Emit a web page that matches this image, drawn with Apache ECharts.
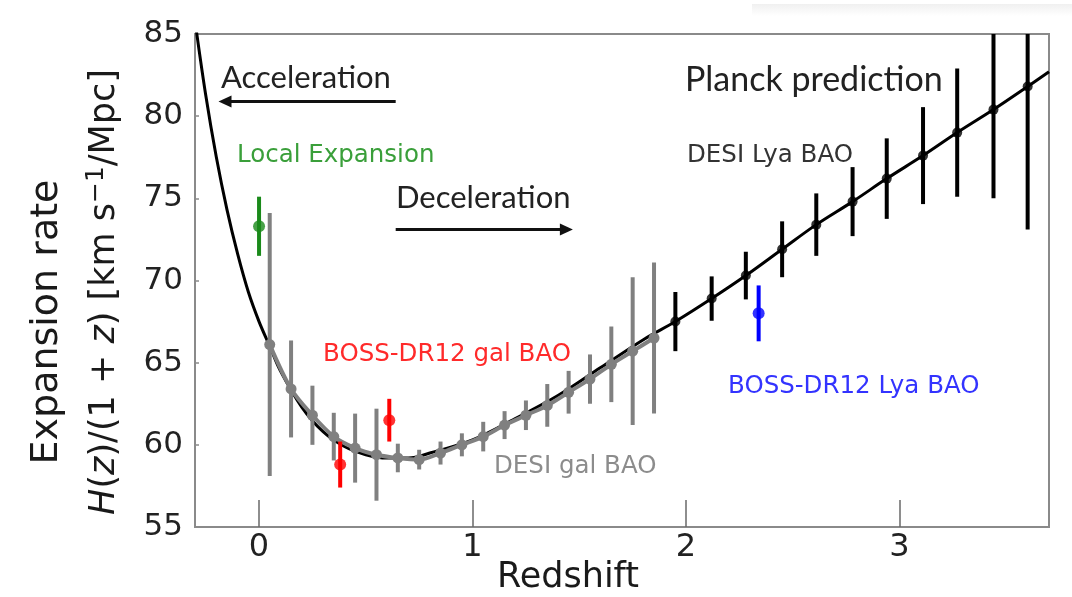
<!DOCTYPE html>
<html>
<head>
<meta charset="utf-8">
<script src="https://cdn.jsdelivr.net/npm/echarts@6/dist/echarts.min.js"></script>
<style>
html,body{margin:0;padding:0;background:#fff;}
#chart{width:1072px;height:597px;}
</style>
</head>
<body>
<div id="chart"></div>
<script>
// ---- Data ----
// Planck prediction curve H(z)/(1+z)
const planckZ = [-0.3, -0.25, -0.2, -0.15, -0.1, -0.05, 0, 0.05, 0.1, 0.2, 0.3, 0.4, 0.5, 0.6, 0.7, 0.8, 1.0, 1.2, 1.4, 1.6, 1.8, 1.95, 2.12, 2.28, 2.45, 2.61, 2.78, 2.94, 3.11, 3.27, 3.44, 3.6, 3.7];
const planckH = [85.8, 81.3, 77.5, 74.3, 71.6, 69.3, 67.5, 66.0, 64.5, 62.3, 60.8, 59.9, 59.4, 59.2, 59.2, 59.5, 60.3, 61.6, 63.0, 64.7, 66.4, 67.5, 68.9, 70.3, 71.9, 73.4, 74.8, 76.2, 77.6, 79.0, 80.4, 81.8, 82.7];

// DESI galaxy BAO forecast (grey)
const desiGalZ   = [0.05, 0.15, 0.25, 0.35, 0.45, 0.55, 0.65, 0.75, 0.85, 0.95, 1.05, 1.15, 1.25, 1.35, 1.45, 1.55, 1.65, 1.75, 1.85];
const desiGalH   = [66.1, 63.4, 61.8, 60.5, 59.8, 59.4, 59.2, 59.1, 59.5, 60.0, 60.5, 61.2, 61.8, 62.4, 63.2, 64.0, 64.9, 65.7, 66.5];
const desiGalErr = [8.0, 2.95, 1.8, 1.45, 2.1, 2.8, 0.87, 0.6, 0.7, 0.7, 0.9, 0.85, 0.9, 1.3, 1.3, 1.5, 2.3, 4.5, 4.6];

// DESI Lyman-alpha BAO forecast (black)
const desiLyaZ   = [1.95, 2.12, 2.28, 2.45, 2.61, 2.78, 2.94, 3.11, 3.27, 3.44, 3.60];
const desiLyaH   = [67.5, 68.9, 70.3, 71.9, 73.4, 74.8, 76.2, 77.6, 79.0, 80.4, 81.8];
const desiLyaErr = [1.8, 1.35, 1.45, 1.7, 1.9, 2.1, 2.45, 2.95, 3.9, 5.4, 8.7];

// BOSS-DR12 galaxy BAO (red)
const bossGalZ   = [0.38, 0.61];
const bossGalH   = [58.8, 61.5];
const bossGalErr = [1.4, 1.3];

// BOSS-DR12 Lyman-alpha BAO (blue)
const bossLyaZ   = [2.34];
const bossLyaH   = [68.0];
const bossLyaErr = [1.7];

// Local expansion (green)
const localZ   = [0.0];
const localH   = [73.3];
const localErr = [1.8];

// Axis ticks
const xTicks = [0, 1, 2, 3];

// Arrow annotations (data coordinates): [zStart, hStart, zEnd, hEnd]
const accelArrow = [0.64, 80.9, -0.19, 80.9];
const decelArrow = [0.64, 73.1, 1.47, 73.1];

// ---- Build ----
function zip3(a, b, c) { return a.map((v, i) => [v, b[i], c[i]]); }
function zip2(a, b) { return a.map((v, i) => [v, b[i]]); }

function errBar(color, width) {
  return function (params, api) {
    const x = api.value(0), y = api.value(1), e = api.value(2);
    const p1 = api.coord([x, y + e]);
    const p2 = api.coord([x, y - e]);
    return {
      type: 'line',
      shape: { x1: p1[0], y1: p1[1], x2: p2[0], y2: p2[1] },
      style: { stroke: color, lineWidth: width }
    };
  };
}

function arrowItem(params, api) {
  const p1 = api.coord([api.value(0), api.value(1)]);
  const p2 = api.coord([api.value(2), api.value(3)]);
  const d = p2[0] >= p1[0] ? 1 : -1;
  const L = 13, W = 6;
  return {
    type: 'group',
    children: [
      { type: 'line', shape: { x1: p1[0], y1: p1[1], x2: p2[0] - d * (L - 2), y2: p2[1] },
        style: { stroke: '#111', lineWidth: 3 } },
      { type: 'polygon', shape: { points: [[p2[0], p2[1]], [p2[0] - d * L, p2[1] - W], [p2[0] - d * L, p2[1] + W]] },
        style: { fill: '#111' } }
    ]
  };
}

const FONT = 'DejaVu Sans';

const chart = echarts.init(document.getElementById('chart'), null, { renderer: 'canvas' });

const option = {
  animation: false,
  backgroundColor: '#fff',
  grid: { left: 195, right: 23, top: 34, bottom: 70, show: true, borderColor: '#8a8a8a', borderWidth: 2, containLabel: false },
  xAxis: {
    type: 'value', min: -0.3, max: 3.7,
    axisLine: { show: true, onZero: false, lineStyle: { color: '#8a8a8a', width: 2 } },
    axisTick: { show: true, inside: true, length: 27, lineStyle: { color: '#6a6a6a', width: 1.5 }, customValues: xTicks },
    axisLabel: { show: true, customValues: xTicks, color: '#222', fontFamily: FONT, fontSize: 32, margin: 5 },
    splitLine: { show: false }
  },
  yAxis: {
    type: 'value', min: 55, max: 85, interval: 5,
    axisLine: { show: true, onZero: false, lineStyle: { color: '#8a8a8a', width: 2 } },
    axisTick: { show: true, inside: true, length: 4, lineStyle: { color: '#8a8a8a', width: 1.5 } },
    axisLabel: { show: true, color: '#222', fontFamily: FONT, fontSize: 31, margin: 12 },
    splitLine: { show: false }
  },
  series: [
    {
      name: 'Planck', type: 'line', data: zip2(planckZ, planckH), smooth: 0.35,
      showSymbol: false, clip: true, lineStyle: { color: '#000', width: 3 }, z: 2
    },
    {
      name: 'Arrows', type: 'custom', renderItem: arrowItem, data: [accelArrow, decelArrow], clip: false, z: 2
    },
    {
      name: 'DESI gal err', type: 'custom', renderItem: errBar('#808080', 4),
      data: zip3(desiGalZ, desiGalH, desiGalErr), clip: true, z: 3
    },
    {
      name: 'DESI gal', type: 'line', data: zip2(desiGalZ, desiGalH), smooth: 0.3,
      symbol: 'circle', symbolSize: 11, itemStyle: { color: '#808080' },
      lineStyle: { color: '#808080', width: 4 }, z: 4
    },
    {
      name: 'DESI Lya err', type: 'custom', renderItem: errBar('#000', 4),
      data: zip3(desiLyaZ, desiLyaH, desiLyaErr), clip: true, z: 3
    },
    {
      name: 'DESI Lya', type: 'scatter', data: zip2(desiLyaZ, desiLyaH),
      symbol: 'circle', symbolSize: 10, itemStyle: { color: '#000' }, z: 4
    },
    {
      name: 'BOSS gal err', type: 'custom', renderItem: errBar('#ff0000', 4),
      data: zip3(bossGalZ, bossGalH, bossGalErr), clip: true, z: 5
    },
    {
      name: 'BOSS gal', type: 'scatter', data: zip2(bossGalZ, bossGalH),
      symbol: 'circle', symbolSize: 12, itemStyle: { color: '#ff0000' }, z: 6
    },
    {
      name: 'BOSS Lya err', type: 'custom', renderItem: errBar('#0000ff', 4),
      data: zip3(bossLyaZ, bossLyaH, bossLyaErr), clip: true, z: 5
    },
    {
      name: 'BOSS Lya', type: 'scatter', data: zip2(bossLyaZ, bossLyaH),
      symbol: 'circle', symbolSize: 12, itemStyle: { color: '#0000ff' }, z: 6
    },
    {
      name: 'Local err', type: 'custom', renderItem: errBar('#1a8a1a', 4),
      data: zip3(localZ, localH, localErr), clip: true, z: 5
    },
    {
      name: 'Local', type: 'scatter', data: zip2(localZ, localH),
      symbol: 'circle', symbolSize: 12, itemStyle: { color: '#1a8a1a' }, z: 6
    }
  ],
  graphic: [
    { type: 'rect', left: 752, top: 4, shape: { width: 320, height: 12 }, silent: true,
      style: { fill: new echarts.graphic.LinearGradient(0, 0, 0, 1, [{ offset: 0, color: '#f0f0f0' }, { offset: 1, color: '#ffffff' }]) } },
    { type: 'text', x: 47, y: 322, rotation: Math.PI / 2,
      style: { text: 'Expansion rate', fill: '#1a1a1a', font: '38px "DejaVu Sans"', align: 'center', verticalAlign: 'middle' } },
    { type: 'text', x: 105, y: 292, rotation: Math.PI / 2,
      style: {
        text: '{i|H}{n|(}{i|z}{n|)/(1 + }{i|z}{n|) [km s}{s|−1}{n|/Mpc]}', align: 'center', verticalAlign: 'middle',
        rich: {
          n: { fontFamily: FONT, fontSize: 35, fill: '#1a1a1a', color: '#1a1a1a' },
          i: { fontFamily: FONT, fontSize: 35, fontStyle: 'italic', fill: '#1a1a1a', color: '#1a1a1a' },
          s: { fontFamily: FONT, fontSize: 25, fill: '#1a1a1a', color: '#1a1a1a', padding: [0, 0, 17, 0] }
        }
      } },
    { type: 'text', x: 568, y: 578,
      style: { text: 'Redshift', fill: '#1a1a1a', font: '35px "DejaVu Sans"', align: 'center', verticalAlign: 'middle' } },
    { type: 'text', x: 221, y: 78,
      style: { text: 'Acceleration', fill: '#222', font: '31px Lato', align: 'left', verticalAlign: 'middle' } },
    { type: 'text', x: 396, y: 198,
      style: { text: 'Deceleration', fill: '#222', font: '31px Lato', align: 'left', verticalAlign: 'middle' } },
    { type: 'text', x: 685, y: 80,
      style: { text: 'Planck prediction', fill: '#222', font: '34px Lato', align: 'left', verticalAlign: 'middle' } },
    { type: 'text', x: 237, y: 156,
      style: { text: 'Local Expansion', fill: '#3a9f3a', font: '24.5px "DejaVu Sans"', align: 'left', verticalAlign: 'middle' } },
    { type: 'text', x: 687, y: 156,
      style: { text: 'DESI Lya BAO', fill: '#333', font: '24.5px "DejaVu Sans"', align: 'left', verticalAlign: 'middle' } },
    { type: 'text', x: 323, y: 355,
      style: { text: 'BOSS-DR12 gal BAO', fill: '#ff2a2a', font: '24.5px "DejaVu Sans"', align: 'left', verticalAlign: 'middle' } },
    { type: 'text', x: 494, y: 467,
      style: { text: 'DESI gal BAO', fill: '#8c8c8c', font: '24.5px "DejaVu Sans"', align: 'left', verticalAlign: 'middle' } },
    { type: 'text', x: 728, y: 387,
      style: { text: 'BOSS-DR12 Lya BAO', fill: '#3333ff', font: '24.5px "DejaVu Sans"', align: 'left', verticalAlign: 'middle' } }
  ]
};
chart.setOption(option);
</script>
</body>
</html>
